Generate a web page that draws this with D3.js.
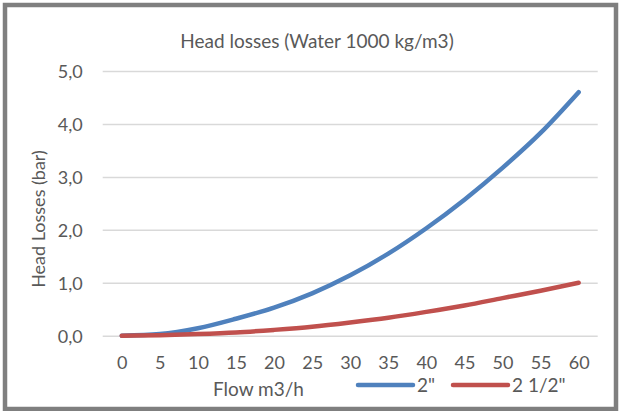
<!DOCTYPE html>
<html><head><meta charset="utf-8">
<script src="https://cdn.jsdelivr.net/npm/d3@7"></script>
<style>
html,body{margin:0;padding:0;background:#fff;}
svg{display:block;}
text{font-family:Lato, "Open Sans", sans-serif;fill:#595959;}
</style></head>
<body>
<svg id="chart" width="620" height="411"></svg>
<script>
const flow = [0,5,10,15,20,25,30,35,40,45,50,55,60];
const loss2 = [0,0.03,0.14,0.32,0.53,0.80,1.14,1.55,2.03,2.57,3.17,3.83,4.60];
const loss212 = [0,0.01,0.03,0.06,0.11,0.17,0.25,0.34,0.45,0.57,0.71,0.85,1.00];
const yTicks = [0,1,2,3,4,5];
const seriesNames = ['2"','2 1/2"'];
const seriesColors = ['#4f81bd','#c0504d'];
const titleText = "Head losses (Water 1000 kg/m3)";
const xTitle = "Flow m3/h";
const yTitle = "Head Losses (bar)";

const svg = d3.select("#chart");
const m = {left:102.7, right:597.7, top:71, bottom:335.7};

svg.append("rect").attr("x",5).attr("y",5).attr("width",611).attr("height",404)
  .attr("fill","#fff").attr("stroke","#7f7f7f").attr("stroke-width",4.5);

const x = d3.scalePoint().domain(flow).range([m.left,m.right]).padding(0.5);
const y = d3.scaleLinear().domain([0,5]).range([m.bottom,m.top]);
const loc = d3.formatLocale({decimal:",",thousands:".",grouping:[3],currency:["","€"]});
const fmt = loc.format(".1f");

const yAxis = d3.axisLeft(y).tickValues(yTicks).tickFormat(fmt).tickSize(-(m.right-m.left)).tickPadding(20);
const gy = svg.append("g").attr("transform",`translate(${m.left},0)`).call(yAxis);
gy.select(".domain").remove();
gy.selectAll(".tick line").attr("stroke","#d9d9d9").attr("stroke-width",1.5);
gy.selectAll(".tick text").attr("font-size",18).attr("fill","#595959").attr("dy","0.35em");

const xAxis = d3.axisBottom(x).tickSize(0).tickPadding(21);
const gx = svg.append("g").attr("transform",`translate(0,${m.bottom})`).call(xAxis);
gx.select(".domain").remove();
gx.selectAll(".tick text").attr("font-size",18).attr("fill","#595959");

const line = d3.line().x((d,i)=>x(flow[i])).y(d=>y(d)).curve(d3.curveMonotoneX);
[loss2, loss212].forEach((s,k)=>{
  svg.append("path").datum(s).attr("d",line).attr("fill","none")
    .attr("stroke",seriesColors[k]).attr("stroke-width",4.5)
    .attr("stroke-linecap","round").attr("stroke-linejoin","round");
});

svg.append("text").attr("x",317).attr("y",48).attr("text-anchor","middle")
  .attr("font-size",19).text(titleText);

svg.append("text").attr("transform","translate(45,219) rotate(-90)").attr("text-anchor","middle")
  .attr("font-size",18).text(yTitle);

svg.append("text").attr("x",258.5).attr("y",396).attr("text-anchor","middle")
  .attr("font-size",19).text(xTitle);

const legX = [358,453];
seriesNames.forEach((n,i)=>{
  svg.append("line").attr("x1",legX[i]).attr("x2",legX[i]+55).attr("y1",385).attr("y2",385)
    .attr("stroke",seriesColors[i]).attr("stroke-width",4.5).attr("stroke-linecap","round");
  svg.append("text").attr("x",legX[i]+59).attr("y",392).attr("font-size",19).text(n);
});
</script>
</body></html>
